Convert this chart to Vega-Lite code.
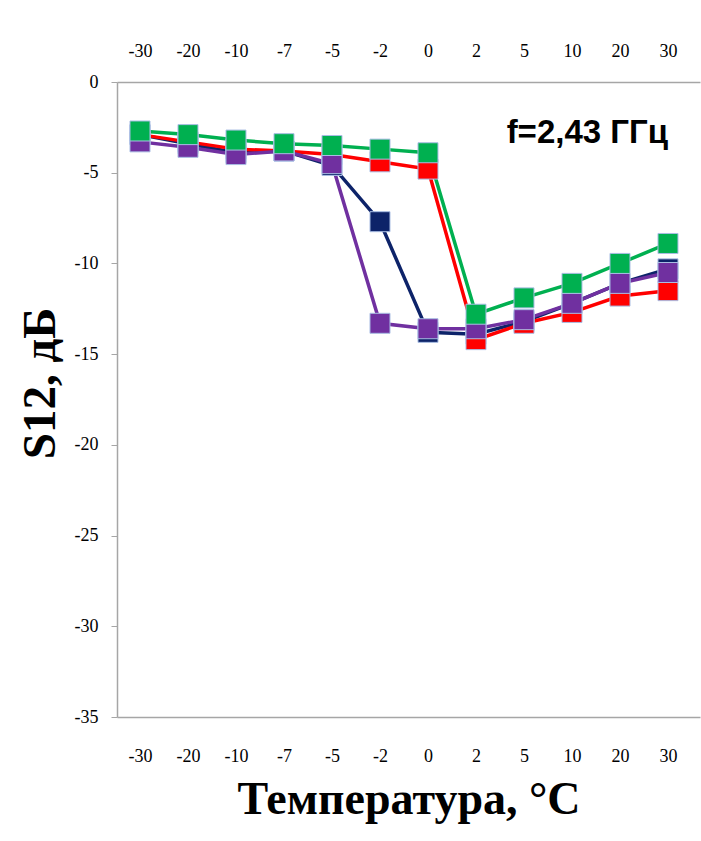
{
  "$schema": "https://vega.github.io/schema/vega-lite/v6.json",
  "width": 583,
  "height": 635,
  "autosize": {"type": "none"},
  "padding": {"left": 117, "top": 82, "right": 1, "bottom": 124},
  "background": "white",
  "config": {
    "view": {"stroke": null},
    "axis": {
      "grid": false,
      "labelFont": "Liberation Serif",
      "labelFontSize": 18,
      "labelColor": "#000000",
      "domainColor": "#a6a6a6",
      "domainWidth": 1.5,
      "tickColor": "#a6a6a6",
      "titleColor": "#000000"
    }
  },
  "datasets": {
    "d": [
      {"t": -30, "s": "s1", "v": -2.9}, {"t": -20, "s": "s1", "v": -3.4}, {"t": -10, "s": "s1", "v": -3.9}, {"t": -7, "s": "s1", "v": -3.8}, {"t": -5, "s": "s1", "v": -4.6}, {"t": -2, "s": "s1", "v": -7.7}, {"t": 0, "s": "s1", "v": -13.8}, {"t": 2, "s": "s1", "v": -13.9}, {"t": 5, "s": "s1", "v": -13.2}, {"t": 10, "s": "s1", "v": -12.2}, {"t": 20, "s": "s1", "v": -11.1}, {"t": 30, "s": "s1", "v": -10.3},
      {"t": -30, "s": "s2", "v": -2.9}, {"t": -20, "s": "s2", "v": -3.3}, {"t": -10, "s": "s2", "v": -3.7}, {"t": -7, "s": "s2", "v": -3.8}, {"t": -5, "s": "s2", "v": -4.0}, {"t": -2, "s": "s2", "v": -4.4}, {"t": 0, "s": "s2", "v": -4.8}, {"t": 2, "s": "s2", "v": -14.2}, {"t": 5, "s": "s2", "v": -13.3}, {"t": 10, "s": "s2", "v": -12.7}, {"t": 20, "s": "s2", "v": -11.8}, {"t": 30, "s": "s2", "v": -11.5},
      {"t": -30, "s": "s3", "v": -3.3}, {"t": -20, "s": "s3", "v": -3.6}, {"t": -10, "s": "s3", "v": -4.0}, {"t": -7, "s": "s3", "v": -3.8}, {"t": -5, "s": "s3", "v": -4.5}, {"t": -2, "s": "s3", "v": -13.3}, {"t": 0, "s": "s3", "v": -13.6}, {"t": 2, "s": "s3", "v": -13.6}, {"t": 5, "s": "s3", "v": -13.1}, {"t": 10, "s": "s3", "v": -12.2}, {"t": 20, "s": "s3", "v": -11.1}, {"t": 30, "s": "s3", "v": -10.5},
      {"t": -30, "s": "s4", "v": -2.7}, {"t": -20, "s": "s4", "v": -2.9}, {"t": -10, "s": "s4", "v": -3.2}, {"t": -7, "s": "s4", "v": -3.4}, {"t": -5, "s": "s4", "v": -3.5}, {"t": -2, "s": "s4", "v": -3.7}, {"t": 0, "s": "s4", "v": -3.9}, {"t": 2, "s": "s4", "v": -12.8}, {"t": 5, "s": "s4", "v": -11.9}, {"t": 10, "s": "s4", "v": -11.1}, {"t": 20, "s": "s4", "v": -10.0}, {"t": 30, "s": "s4", "v": -8.9}
    ],
    "note": [{"t": 30, "v": -3.35, "label": "f=2,43 ГГц"}]
  },
  "layer": [
    {
      "data": {"name": "d"},
      "mark": {"type": "line", "strokeWidth": 3.5},
      "encoding": {
        "x": {
          "field": "t", "type": "ordinal",
          "scale": {"type": "point", "padding": 0.573, "align": 0.418},
          "axis": {
            "orient": "bottom", "labelAngle": 0, "ticks": false, "labelPadding": 30,
            "title": "Температура, °C", "titleFont": "Liberation Serif", "titleFontSize": 46,
            "titleFontWeight": "bold", "titlePadding": 12
          }
        },
        "y": {
          "field": "v", "type": "quantitative",
          "scale": {"domain": [-35, 0], "nice": false},
          "axis": {
            "values": [0, -5, -10, -15, -20, -25, -30, -35],
            "labelExpr": "'' + datum.value",
            "labelFont": "Liberation Serif", "labelFontSize": 18,
            "tickSize": 6, "labelPadding": 13,
            "title": "S12, дБ", "titleFont": "Liberation Serif", "titleFontSize": 47,
            "titleFontWeight": "bold", "titlePadding": 10, "titleY": 301, "titleAlign": "center"
          }
        },
        "color": {
          "field": "s", "type": "nominal",
          "scale": {"domain": ["s1", "s2", "s3", "s4"], "range": ["#0d2369", "#ff0000", "#7030a0", "#00b050"]},
          "legend": null
        }
      }
    },
    {
      "data": {"name": "d"},
      "mark": {"type": "point", "shape": "square", "filled": true, "size": 400, "opacity": 1, "stroke": "#a9bde3", "strokeWidth": 1},
      "encoding": {
        "x": {
          "field": "t", "type": "ordinal",
          "axis": {"orient": "top", "labelAngle": 0, "ticks": false, "labelPadding": 22, "title": null}
        },
        "y": {"field": "v", "type": "quantitative", "axis": null},
        "color": {"field": "s", "type": "nominal", "legend": null}
      }
    },
    {
      "data": {"name": "note"},
      "mark": {"type": "text", "align": "right", "baseline": "alphabetic", "font": "Liberation Sans Narrow, Liberation Sans, sans-serif", "fontSize": 33, "fontWeight": "bold", "color": "#000000"},
      "encoding": {
        "x": {"field": "t", "type": "ordinal", "axis": null},
        "y": {"field": "v", "type": "quantitative", "axis": null},
        "text": {"field": "label"}
      }
    }
  ],
  "resolve": {"axis": {"x": "independent", "y": "independent"}}
}
